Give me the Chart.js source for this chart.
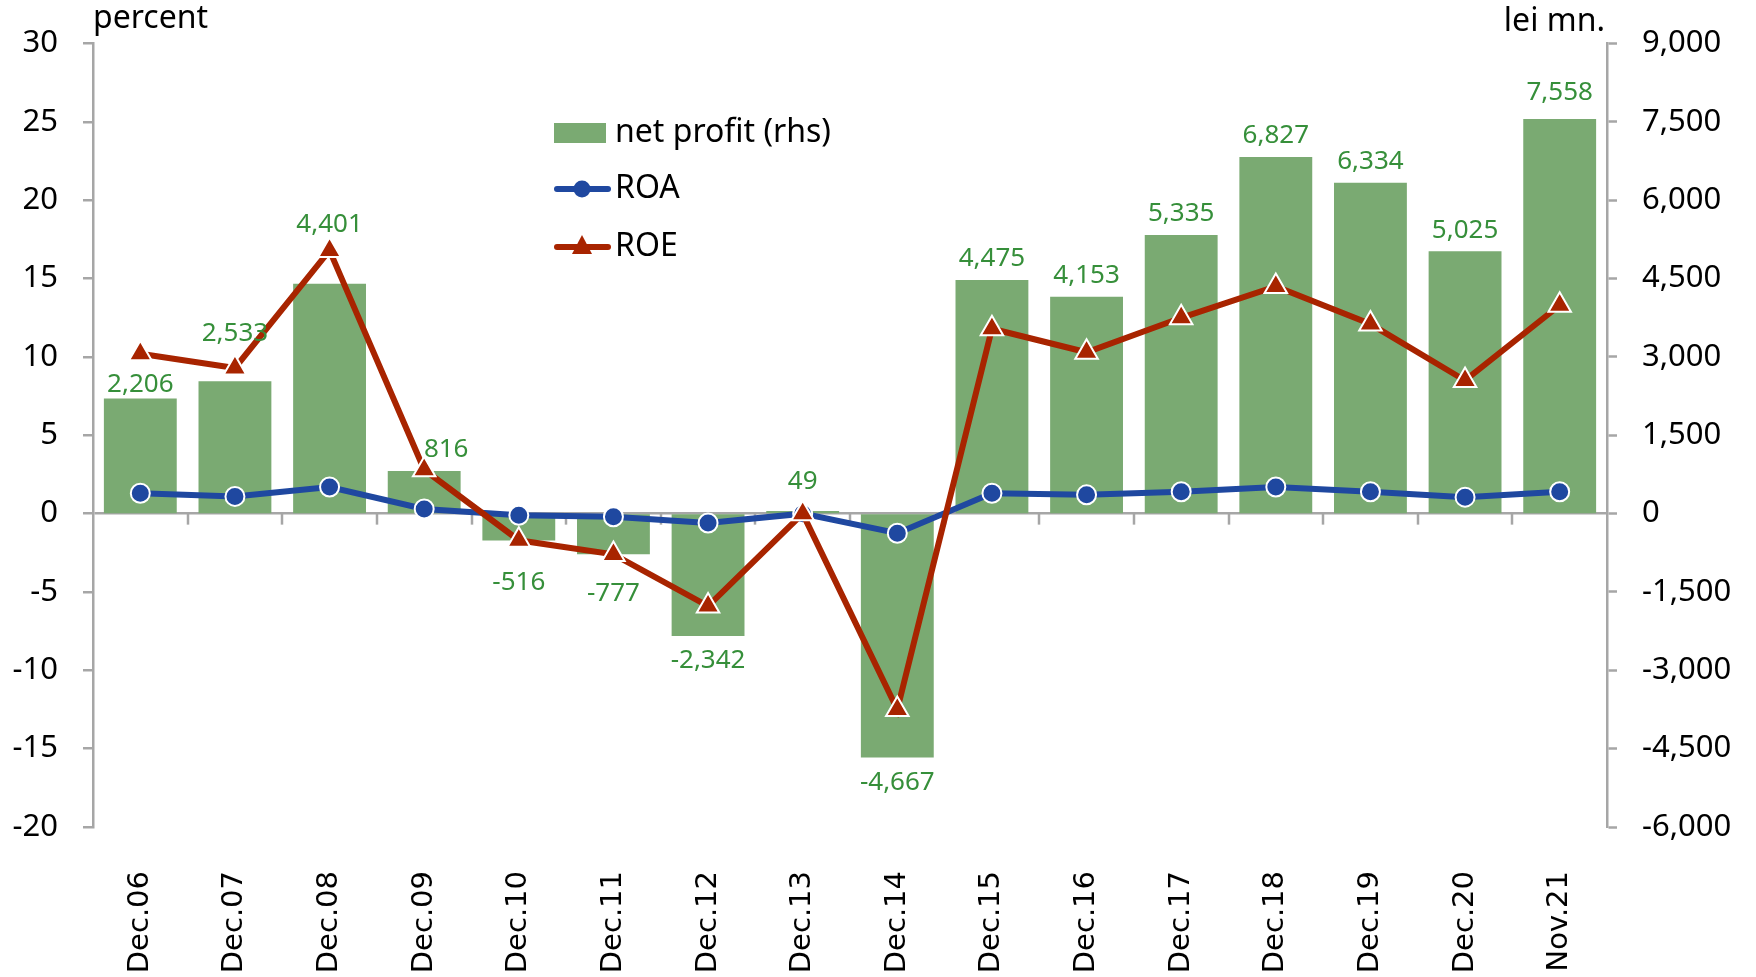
<!DOCTYPE html>
<html>
<head>
<meta charset="utf-8">
<script src="https://cdn.jsdelivr.net/npm/chart.js@4.4.1/dist/chart.umd.min.js"></script>
<style>
  html, body { margin: 0; padding: 0; background: #ffffff; }
  #wrap { width: 1756px; height: 977px; }
</style>
</head>
<body>
<div id="wrap"><canvas id="c" width="1756" height="977"></canvas></div>
<script>
// ---- data ----
const categories = ['Dec.06','Dec.07','Dec.08','Dec.09','Dec.10','Dec.11','Dec.12','Dec.13','Dec.14','Dec.15','Dec.16','Dec.17','Dec.18','Dec.19','Dec.20','Nov.21'];
const netProfit = [2206, 2533, 4401, 816, -516, -777, -2342, 49, -4667, 4475, 4153, 5335, 6827, 6334, 5025, 7558];
const roa = [1.3, 1.1, 1.7, 0.3, -0.1, -0.2, -0.6, 0.0, -1.25, 1.3, 1.2, 1.4, 1.7, 1.4, 1.05, 1.4];
const roe = [10.2, 9.3, 16.8, 2.8, -1.7, -2.6, -5.9, 0.0, -12.5, 11.8, 10.3, 12.5, 14.5, 12.1, 8.5, 13.3];
const percentTicks = [-20, -15, -10, -5, 0, 5, 10, 15, 20, 25, 30];
const profitTicks = [-6000, -4500, -3000, -1500, 0, 1500, 3000, 4500, 6000, 7500, 9000];
const seriesNames = ['net profit (rhs)', 'ROA', 'ROE'];
const axisTitles = ['percent', 'lei mn.'];

// ---- styles ----
const GREEN = '#7aaa72';
const BLUE = '#1f48a0';
const RED = '#a82400';
const LABEL_GREEN = '#368f3a';
const GRAY = '#a6a6a6';
const TICK_FONT = { family: 'Noto Sans', size: 31 };

const fmt = v => v.toLocaleString('en-US');

// per-label nudges (dx, dy) for bar value labels, as in the original layout
const labelNudge = { 0: [0, 7], 1: [0, -27], 2: [0, -38], 3: [22, 0], 4: [0, 17], 5: [0, 14], 7: [0, -8], 15: [0, -5] };

const barLabels = {
  id: 'barLabels',
  afterDatasetsDraw(chart) {
    const meta = chart.getDatasetMeta(0);
    const ctx = chart.ctx;
    ctx.save();
    ctx.font = '26px "Noto Sans"';
    ctx.fillStyle = LABEL_GREEN;
    ctx.textAlign = 'center';
    ctx.textBaseline = 'middle';
    meta.data.forEach((el, i) => {
      const v = netProfit[i];
      const n = labelNudge[i] || [0, 0];
      const y = v >= 0 ? el.y - 21 : el.y + 25;
      ctx.fillText(fmt(v), el.x + n[0], y + n[1]);
    });
    ctx.restore();
  }
};

const categoryTicks = {
  id: 'categoryTicks',
  beforeDatasetsDraw(chart) {
    const x = chart.scales.x, y = chart.scales.y;
    const y0 = y.getPixelForValue(0);
    const ctx = chart.ctx;
    ctx.save();
    ctx.strokeStyle = GRAY;
    ctx.lineWidth = 2.5;
    for (let i = 1; i < categories.length; i++) {
      const xb = Math.round((x.getPixelForValue(i - 1) + x.getPixelForValue(i)) / 2);
      ctx.beginPath();
      ctx.moveTo(xb, y0);
      ctx.lineTo(xb, y0 + 11);
      ctx.stroke();
    }
    ctx.restore();
  }
};

const extras = {
  id: 'extras',
  afterDraw(chart) {
    const ctx = chart.ctx;
    const a = chart.chartArea;
    ctx.save();
    // axis titles
    ctx.font = '32px "Noto Sans"';
    ctx.fillStyle = '#000';
    ctx.textBaseline = 'alphabetic';
    ctx.textAlign = 'left';
    ctx.fillText(axisTitles[0], a.left, 28);
    ctx.textAlign = 'right';
    ctx.fillText(axisTitles[1], a.right - 2, 31);

    // legend
    const ds = chart.data.datasets;
    const lx = 554, lw = 54, tx = 615;
    const rows = [133, 189, 247];
    ctx.font = '32px "Noto Sans"';
    ctx.textAlign = 'left';
    ctx.textBaseline = 'middle';
    // bar entry
    ctx.fillStyle = ds[0].backgroundColor;
    ctx.fillRect(lx, rows[0] - 10, 52, 20);
    ctx.fillStyle = '#000';
    ctx.fillText(ds[0].label, tx, rows[0]);
    // line entries
    [1, 2].forEach(k => {
      const yy = rows[k];
      ctx.strokeStyle = ds[k].borderColor;
      ctx.lineWidth = 6;
      ctx.lineCap = 'round';
      ctx.beginPath();
      ctx.moveTo(lx + 3, yy);
      ctx.lineTo(lx + lw, yy);
      ctx.stroke();
      ctx.fillStyle = ds[k].borderColor;
      const cx = lx + lw / 2 + 1;
      if (k === 1) {
        ctx.beginPath();
        ctx.arc(cx, yy, 8.5, 0, Math.PI * 2);
        ctx.fill();
      } else {
        ctx.beginPath();
        ctx.moveTo(cx, yy - 12);
        ctx.lineTo(cx + 10, yy + 7);
        ctx.lineTo(cx - 10, yy + 7);
        ctx.closePath();
        ctx.fill();
      }
      ctx.fillStyle = '#000';
      ctx.fillText(ds[k].label, tx, yy);
    });
    ctx.restore();
  }
};

Chart.defaults.font.family = 'Noto Sans';
Chart.defaults.color = '#000';

new Chart(document.getElementById('c'), {
  data: {
    labels: categories,
    datasets: [
      {
        type: 'bar',
        label: seriesNames[0],
        data: netProfit,
        yAxisID: 'y1',
        backgroundColor: GREEN,
        borderWidth: 0,
        barPercentage: 0.77,
        categoryPercentage: 1.0,
        order: 3
      },
      {
        type: 'line',
        label: seriesNames[1],
        data: roa,
        yAxisID: 'y',
        borderColor: BLUE,
        backgroundColor: BLUE,
        borderWidth: 6,
        pointStyle: 'circle',
        pointRadius: 9.5,
        pointBackgroundColor: BLUE,
        pointBorderColor: '#ffffff',
        pointBorderWidth: 2,
        tension: 0,
        order: 2
      },
      {
        type: 'line',
        label: seriesNames[2],
        data: roe,
        yAxisID: 'y',
        borderColor: RED,
        backgroundColor: RED,
        borderWidth: 6,
        pointStyle: 'triangle',
        pointRadius: 13,
        pointBackgroundColor: RED,
        pointBorderColor: '#ffffff',
        pointBorderWidth: 2,
        tension: 0,
        order: 1
      }
    ]
  },
  options: {
    responsive: false,
    animation: false,
    devicePixelRatio: 1,
    layout: { padding: { top: 41, left: 0, right: 0, bottom: 0 } },
    plugins: { legend: { display: false }, tooltip: { enabled: false } },
    scales: {
      x: {
        type: 'category',
        offset: true,
        grid: { display: false, drawTicks: false },
        border: { display: false },
        ticks: {
          autoSkip: false,
          maxRotation: 90,
          minRotation: 90,
          padding: 44,
          font: { family: 'DejaVu Sans', size: 29 },
          color: '#000'
        },
        afterFit(s) { s.height = 150; }
      },
      y: {
        position: 'left',
        min: percentTicks[0],
        max: percentTicks[percentTicks.length - 1],
        ticks: {
          stepSize: percentTicks[1] - percentTicks[0],
          padding: 25,
          font: TICK_FONT,
          color: '#000'
        },
        grid: {
          drawOnChartArea: true,
          color: c => (c.tick && c.tick.value === 0) ? GRAY : 'rgba(0,0,0,0)',
          lineWidth: 2.5,
          drawTicks: true,
          tickLength: 10,
          tickColor: GRAY,
          tickWidth: 2.5
        },
        border: { display: true, color: GRAY, width: 2.5 },
        afterFit(s) { s.width = 93; }
      },
      y1: {
        position: 'right',
        min: profitTicks[0],
        max: profitTicks[profitTicks.length - 1],
        ticks: {
          stepSize: profitTicks[1] - profitTicks[0],
          padding: 25,
          font: TICK_FONT,
          color: '#000',
          callback: v => fmt(v)
        },
        grid: {
          drawOnChartArea: false,
          drawTicks: true,
          tickLength: 10,
          tickColor: GRAY,
          tickWidth: 2.5
        },
        border: { display: true, color: GRAY, width: 2.5 },
        afterFit(s) { s.width = 149; }
      }
    }
  },
  plugins: [categoryTicks, barLabels, extras]
});
</script>
</body>
</html>
